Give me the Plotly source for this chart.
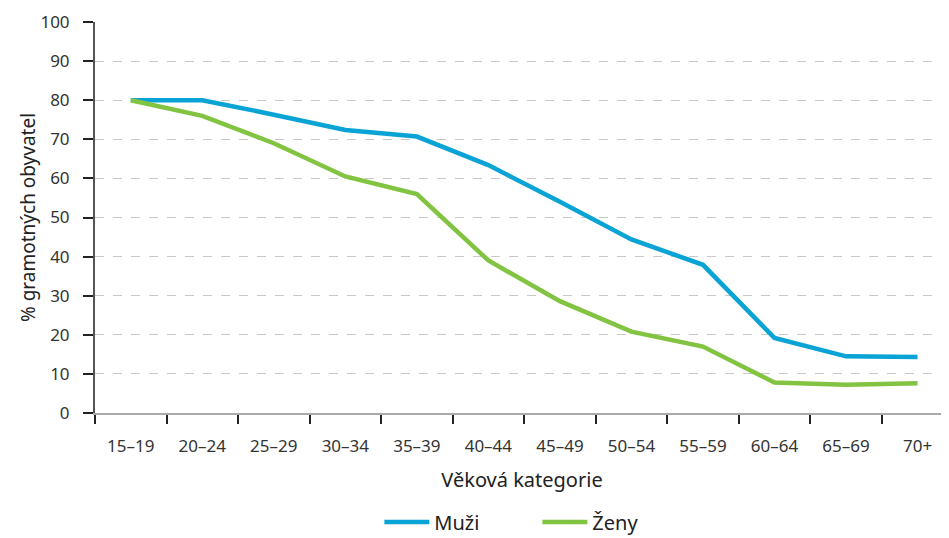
import plotly.graph_objects as go

categories = ["15–19", "20–24", "25–29", "30–34", "35–39", "40–44", "45–49",
              "50–54", "55–59", "60–64", "65–69", "70+"]
muzi = [80, 80, 76.3, 72.4, 70.7, 63.4, 54.0, 44.4, 37.9, 19.2, 14.5, 14.3]
zeny = [80, 76, 69.0, 60.5, 56.0, 39.0, 28.6, 20.8, 17.0, 7.8, 7.2, 7.6]
y_ticks = [0, 10, 20, 30, 40, 50, 60, 70, 80, 90, 100]

FONT = "Noto Sans"
fig = go.Figure()
fig.add_trace(go.Scatter(x=categories, y=muzi, mode="lines", name="Muži",
                         line=dict(color="#0aa3d5", width=4.5)))
fig.add_trace(go.Scatter(x=categories, y=zeny, mode="lines", name="Ženy",
                         line=dict(color="#82c341", width=4.5)))

# page body has an 8px margin, so the figure is sized to fit the 949x538 window
fig.update_layout(
    width=941, height=530,
    margin=dict(l=87, r=0, t=14, b=125),
    plot_bgcolor="white", paper_bgcolor="white",
    font=dict(family=FONT, size=17, color="#333333"),
    showlegend=True,
    legend=dict(orientation="h", x=0.518, xanchor="center",
                yref="container", y=0.03, yanchor="middle",
                font=dict(size=20, color="#222222"), itemwidth=45,
                entrywidth=98, traceorder="normal"),
    xaxis=dict(
        type="category", categoryorder="array", categoryarray=categories,
        range=[-0.5, 11.44], tickson="boundaries", automargin=False,
        showline=True, linecolor="#aaaaaa", linewidth=2,
        ticks="outside", ticklen=9, tickwidth=2, tickcolor="#222222",
        ticklabelstandoff=17,
        showgrid=False, tickfont=dict(size=17, color="#333333"),
        title=dict(text="Věková kategorie", font=dict(size=20, color="#222222"), standoff=17),
    ),
    yaxis=dict(
        range=[0, 100], tickvals=y_ticks, ticktext=[str(v) for v in y_ticks],
        automargin=False,
        showline=True, linecolor="#555555", linewidth=2,
        ticks="outside", ticklen=10, tickwidth=2, tickcolor="#222222",
        ticklabelstandoff=10,
        showgrid=True, gridcolor="#c8c8c8", griddash="dash", gridwidth=1,
        zeroline=False, tickfont=dict(size=17, color="#333333"),
        title=dict(text="% gramotných obyvatel", font=dict(size=19, color="#222222"), standoff=0),
    ),
)

fig.write_html("out.html")
